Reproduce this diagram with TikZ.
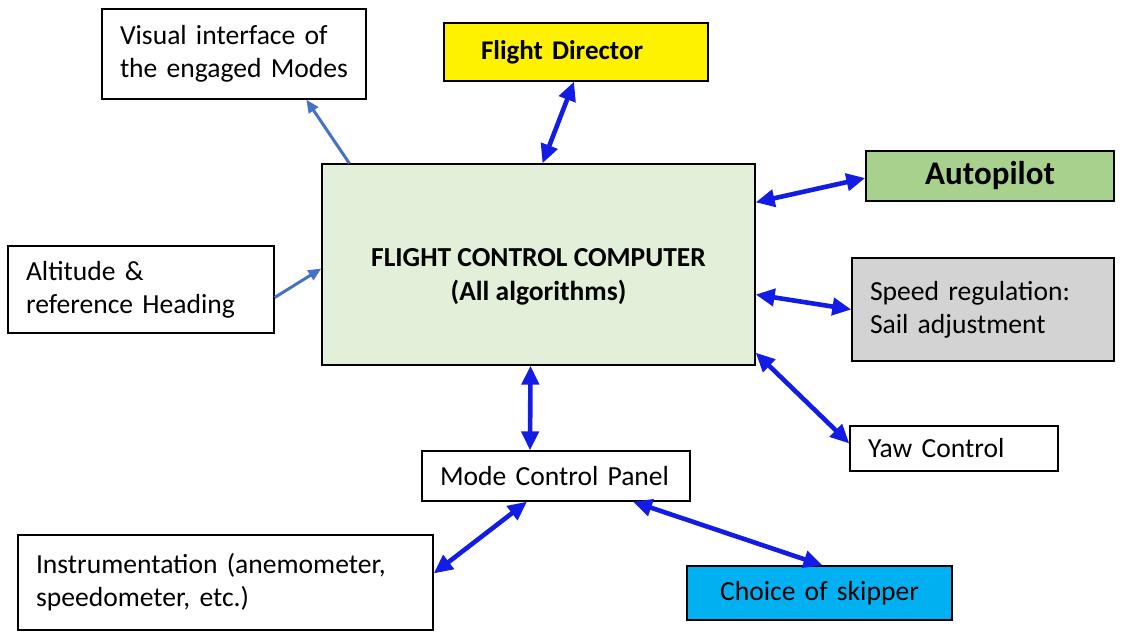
\documentclass[tikz,border=0pt]{standalone}
\usepackage{fontspec}
\setmainfont{Carlito}
\usetikzlibrary{arrows.meta,calc}
\definecolor{fccgreen}{HTML}{E2EFD9}
\definecolor{apgreen}{HTML}{A9D18E}
\definecolor{sailgray}{HTML}{D3D3D3}
\definecolor{skipblue}{HTML}{00B0F0}
\definecolor{linkblue}{RGB}{18,28,228}
\definecolor{feedblue}{HTML}{4472C4}
\tikzset{
	box/.style 2 args={draw,line width=1.3pt,inner xsep=18pt,inner ysep=0pt,align=left,text width=#1,minimum height=#2,font=\fontsize{27.6}{33}\selectfont},
	link/.style={{Triangle[length=19pt,width=17pt]}-{Triangle[length=19pt,width=17pt]},line width=4.6pt,linkblue},
	feed/.style={-{Triangle[length=13pt,width=11pt]},line width=3pt,feedblue}
}
\begin{document}
\begin{tikzpicture}[x=1pt,y=-1pt]%[scale=1.5]
						\useasboundingbox (0,0) rectangle (1127,632);
						\node [box={228pt}{90pt}] (vis) at (234,54) {Visual interface of\\the engaged Modes};
						\node [box={190pt}{58pt},inner xsep=37pt,fill=yellow,font=\fontsize{27}{31}\bfseries] (fd) at (576,52) {Flight Director};
						\node [box={397pt}{201pt},fill=fccgreen,label={[name=fcctext,align=center,font=\fontsize{27.5}{34}\bfseries,yshift=-12pt]center:FLIGHT CONTROL COMPUTER\\(All algorithms)}] (fcc) at (538.5,264.5) {};
						\node [box={212pt}{50pt},fill=apgreen,align=center,font=\fontsize{33}{38}\bfseries] (ap) at (990,176) {Autopilot};
						\node [box={230pt}{87pt}] (alt) at (141,289.5) {Altitude \&\\reference Heading};
						\node [box={226pt}{103pt},fill=sailgray] (spd) at (983,309.5) {Speed regulation:\\Sail adjustment};
						\node [box={172pt}{45pt}] (yaw) at (954,448.5) {Yaw Control};
						\node [box={232pt}{50pt}] (mcp) at (556,476) {Mode Control Panel};
						\node [box={379pt}{95pt}] (ins) at (225.5,582.5) {Instrumentation (anemometer,\\speedometer, etc.)};
						\node [box={229pt}{54pt},fill=skipblue,align=center] (cho) at (819.5,593) {Choice of skipper};

						\draw [feed] ($(fcc.north west)+(28,0)$) -- ($(vis.south west)+(205,0)$);
						\draw [feed] ($(alt.east)+(0,8)$) -- ($(fcc.west)+(0,4)$);
						\draw [link] ($(fcc.north)+(4,0)$) -- ($(fd.south)+(-2,0)$);
						\draw [link] ($(fcc.north east)+(0,39)$) -- ($(ap.west)+(0,2)$);
						\draw [link] ($(fcc.east)+(0,30)$) -- ($(spd.west)+(0,0)$);
						\draw [link] ($(fcc.south east)+(0,-13)$) -- ($(yaw.west)+(0,-5)$);
						\draw [link] ($(fcc.south)+(-8,0)$) -- ($(mcp.north)+(-26,0)$);
						\draw [link] ($(mcp.south)+(-29,0)$) -- ($(ins.east)+(0,-9)$);
						\draw [link] ($(mcp.south)+(77,0)$) -- ($(cho.north)+(3,0)$);
					\end{tikzpicture}
\end{document}
